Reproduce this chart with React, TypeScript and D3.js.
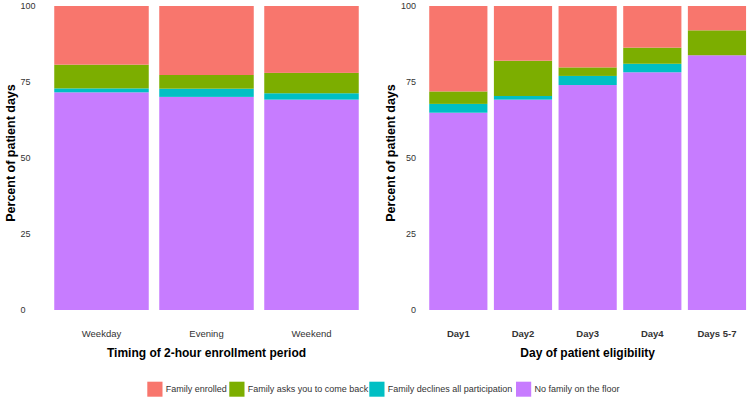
import React from "react";
import * as d3 from "d3";

const seriesKeys = ["Family enrolled", "Family asks you to come back", "Family declines all participation", "No family on the floor"];
const seriesColors = ["#F8766D", "#7CAE00", "#00BFC4", "#C77CFF"];

const timingCats = ["Weekday", "Evening", "Weekend"];
const timingNone = [71.6, 70.1, 69.2];
const timingDeclines = [1.3, 2.7, 2.1];
const timingAsks = [7.8, 4.5, 6.7];
const timingEnrolled = [19.3, 22.7, 22.0];

const dayCats = ["Day1", "Day2", "Day3", "Day4", "Days 5-7"];
const dayNone = [64.9, 69.2, 74.0, 78.2, 83.8];
const dayDeclines = [2.9, 1.2, 3.0, 2.8, 0];
const dayAsks = [4.1, 11.6, 2.8, 5.3, 8.2];
const dayEnrolled = [28.1, 18.0, 20.2, 13.7, 8.0];

const yTicks = [0, 25, 50, 75, 100];

const FONT = "'Liberation Sans', Arial, sans-serif";

type PanelProps = {
  cats: string[];
  none: number[];
  declines: number[];
  asks: number[];
  enrolled: number[];
  x0: number;
  x1: number;
  title: string;
  yTitleX: number;
  tickAnchor: "start" | "end";
  tickX: number;
  boldTicks: boolean;
};

function Panel(p: PanelProps) {
  const y = d3.scaleLinear().domain([0, 100]).range([310, 6]);
  const x = d3.scaleBand().domain(p.cats).range([p.x0, p.x1]).paddingInner(0.1).paddingOuter(0.05);
  // stacking order bottom->top: none, declines, asks, enrolled
  const rows = p.cats.map((c, i) => ({
    cat: c,
    none: p.none[i],
    declines: p.declines[i],
    asks: p.asks[i],
    enrolled: p.enrolled[i],
  }));
  const keys = ["none", "declines", "asks", "enrolled"];
  const colorByKey: Record<string, string> = {
    enrolled: seriesColors[0],
    asks: seriesColors[1],
    declines: seriesColors[2],
    none: seriesColors[3],
  };
  const stacked = d3.stack<any>().keys(keys)(rows);
  const mid = (p.x0 + p.x1) / 2;
  return (
    <g>
      {stacked.map((s) => (
        <g key={s.key} fill={colorByKey[s.key]}>
          {s.map((d, i) => {
            const h = y(d[0]) - y(d[1]);
            if (h <= 0) return null;
            return (
              <rect
                key={i}
                x={x(p.cats[i])}
                y={y(d[1])}
                width={x.bandwidth()}
                height={h}
              />
            );
          })}
        </g>
      ))}
      {yTicks.map((t) => (
        <text
          key={t}
          x={p.tickX}
          y={y(t) + 3.2}
          fontSize={9}
          fill="#333"
          textAnchor={p.tickAnchor}
          fontFamily={FONT}
        >
          {t}
        </text>
      ))}
      {p.cats.map((c) => (
        <text
          key={c}
          x={(x(c) as number) + x.bandwidth() / 2}
          y={336.5}
          fontSize={9.5}
          fill="#333"
          fontWeight={p.boldTicks ? "bold" : "normal"}
          textAnchor="middle"
          fontFamily={FONT}
        >
          {c}
        </text>
      ))}
      <text x={mid} y={357} fontSize={12} fontWeight="bold" textAnchor="middle" fontFamily={FONT} fill="#000">
        {p.title}
      </text>
      <text
        transform={`translate(${p.yTitleX},153) rotate(-90)`}
        fontSize={12.5}
        fontWeight="bold"
        textAnchor="middle"
        fontFamily={FONT}
        fill="#000"
      >
        Percent of patient days
      </text>
    </g>
  );
}

export default function App() {
  const legendItems = seriesKeys.map((k, i) => ({ k, c: seriesColors[i] }));
  const legendX = [147.3, 229.3, 369.3, 516];
  return (
    <svg
      width={750}
      height={401}
      style={{ position: "absolute", left: 0, top: 0, background: "#fff" }}
    >
      <rect width={750} height={401} fill="#fff" />
      <Panel
        cats={timingCats}
        none={timingNone}
        declines={timingDeclines}
        asks={timingAsks}
        enrolled={timingEnrolled}
        x0={49}
        x1={364}
        title="Timing of 2-hour enrollment period"
        yTitleX={14.5}
        tickAnchor="start"
        tickX={20.5}
        boldTicks={false}
      />
      <Panel
        cats={dayCats}
        none={dayNone}
        declines={dayDeclines}
        asks={dayAsks}
        enrolled={dayEnrolled}
        x0={426}
        x1={749.3}
        title="Day of patient eligibility"
        yTitleX={394.5}
        tickAnchor="end"
        tickX={416}
        boldTicks={true}
      />
      {legendItems.map((it, i) => (
        <g key={it.k}>
          <rect x={legendX[i]} y={381.7} width={15.2} height={15} fill={it.c} />
          <text x={legendX[i] + 18.5} y={392.3} fontSize={9} fill="#333" fontFamily={FONT}>
            {it.k}
          </text>
        </g>
      ))}
    </svg>
  );
}
